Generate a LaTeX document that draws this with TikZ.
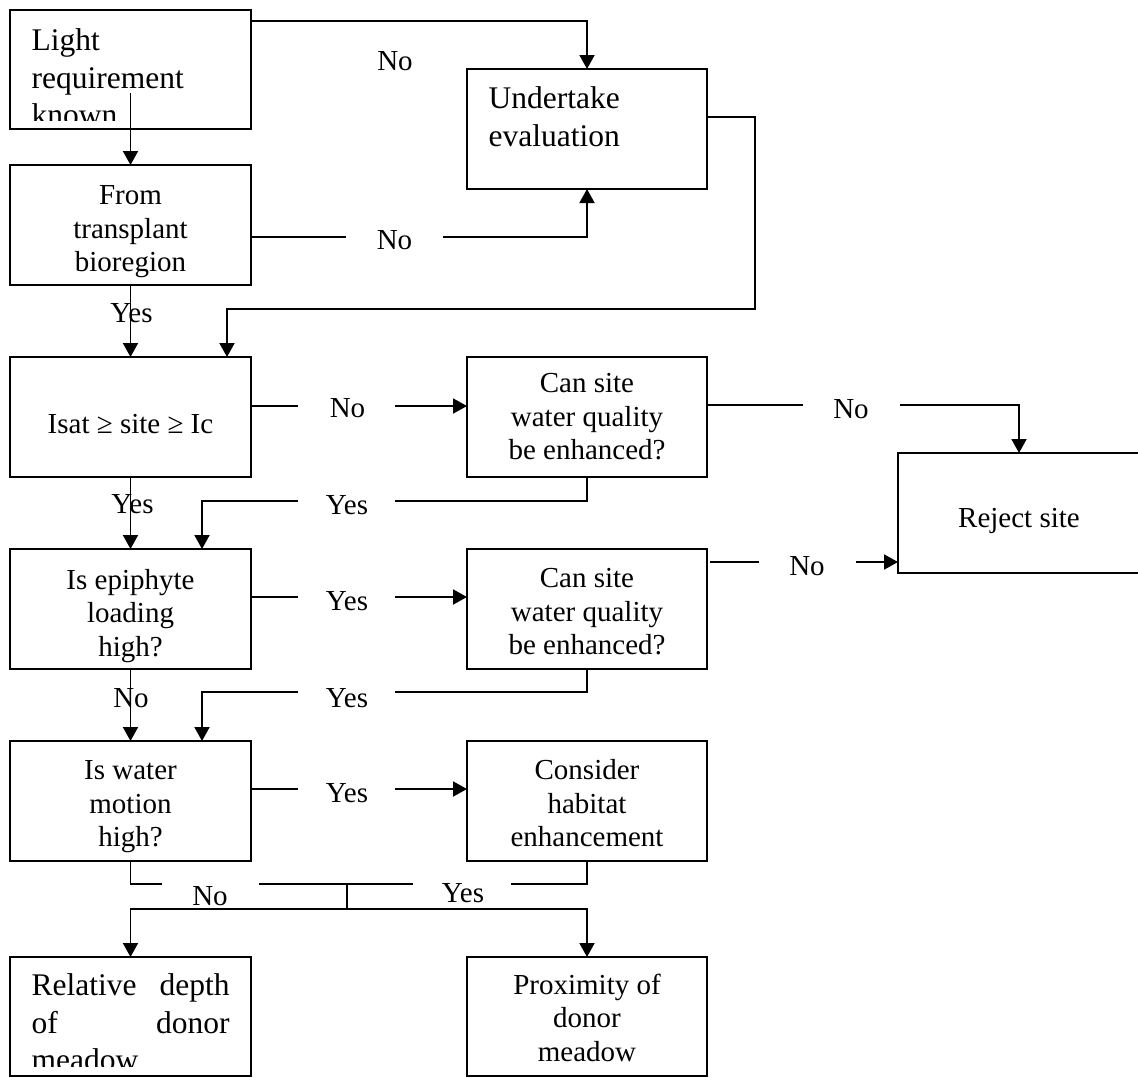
\documentclass[tikz,border=0pt]{standalone}
\usepackage{fontspec}
\setmainfont{Liberation Serif}
\usetikzlibrary{arrows.meta}
\begin{document}
\begin{tikzpicture}[x=1pt,y=-1pt,
  box/.style={draw, line width=1.9pt, inner sep=0pt, outer sep=0pt, minimum width=241pt, minimum height=120pt},
  ctext/.style={font=\fontsize{29}{33.5}\selectfont, align=center, inner sep=0pt, anchor=north},
  ltext/.style={font=\fontsize{31.5}{37.5}\selectfont, align=left, inner sep=0pt, anchor=north west},
  lab/.style={font=\fontsize{29}{33.5}\selectfont, inner sep=0pt, anchor=base},
  conn/.style={line width=1.9pt, -{Triangle[length=14pt,width=15pt]}},
  seg/.style={line width=1.9pt}
]
\useasboundingbox (0,0) rectangle (1138,1077);
\fill[white] (0,0) rectangle (1138,1077);
\clip (0,0) rectangle (1138,1077);

% ---- boxes ----
\node[box, minimum height=119pt] (b1) at (130.5,69.5) {};
\node[box] (b2) at (130.5,225) {};
\node[box] (b3) at (130.5,417) {};
\node[box] (b4) at (130.5,609) {};
\node[box] (b5) at (130.5,801) {};
\node[box, minimum height=119pt] (b6) at (130.5,1016.5) {};
\node[box, minimum width=240pt] (b7) at (587,129) {};
\node[box, minimum width=240pt] (b8) at (587,417) {};
\node[box, minimum width=240pt] (b9) at (587,609) {};
\node[box, minimum width=240pt] (b10) at (587,801) {};
\node[box, minimum width=260pt] (b11) at (1028,513) {};
\node[box, minimum width=240pt, minimum height=119pt] (b12) at (587,1016.5) {};

% ---- box texts ----
\begin{scope}
  \clip (b1.north west) rectangle ([yshift=9pt]b1.south east);
  \node[ltext] (t1) at (31.5,28.5) {Light\\requirement\\known};
\end{scope}
\node[ctext] (t2) at ([yshift=-20.5pt]b2.north) {From\\transplant\\bioregion};
\node[lab] (t3) at (130.5,433) {Isat ≥ site ≥ Ic};
\node[ctext] (t4) at ([yshift=-20pt]b4.north) {Is epiphyte\\loading\\high?};
\node[ctext] (t5) at ([yshift=-19.5pt]b5.north) {Is water\\motion\\high?};
\begin{scope}
  \clip (b6.north west) rectangle ([yshift=10pt]b6.south east);
  \node[ltext] (t6) at (31.5,973.5) {\hbox to 198pt{Relative\hfill depth}\\\hbox to 198pt{of\hfill donor}\\meadow};
\end{scope}
\node[ltext] (t7) at (488.5,86.5) {Undertake\\evaluation};
\node[ctext] (t8) at ([yshift=-16.5pt]b8.north) {Can site\\water quality\\be enhanced?};
\node[ctext] (t9) at ([yshift=-19.5pt]b9.north) {Can site\\water quality\\be enhanced?};
\node[ctext] (t10) at ([yshift=-18.5pt]b10.north) {Consider\\habitat\\enhancement};
\node[lab] (t11) at (1019,527) {Reject site};
\node[ctext] (t12) at ([yshift=-16.5pt]b12.north) {Proximity of\\donor\\meadow};

% ---- coordinates ----
\coordinate (k1) at (587,21);
\coordinate (s2) at (130.5,93);
\coordinate (g3a) at (346,237);
\coordinate (g3b) at (443,237);
\coordinate (r4a) at (755,117);
\coordinate (r4b) at (755,309);
\coordinate (r4c) at (227,309);
\coordinate (g6a) at (298,406);
\coordinate (g6b) at (395,406);
\coordinate (g7a) at (803,405);
\coordinate (g7b) at (900,405);
\coordinate (k7) at (1019,405);
\coordinate (g9a) at (395,501);
\coordinate (g9b) at (298,501);
\coordinate (k9) at (202,501);
\coordinate (g10a) at (298,597);
\coordinate (g10b) at (395,597);
\coordinate (g11s) at (710,562);
\coordinate (g11a) at (759,562);
\coordinate (g11b) at (856,562);
\coordinate (g13a) at (395,692);
\coordinate (g13b) at (298,692);
\coordinate (k13) at (202,692);
\coordinate (g14a) at (298,789);
\coordinate (g14b) at (395,789);
\coordinate (g15a) at (162,884);
\coordinate (g15b) at (259,884);
\coordinate (g15c) at (413,884);
\coordinate (g15d) at (511,884);
\coordinate (j1) at (347,884);
\coordinate (j2) at (347,909);

% ---- connectors ----
\draw[conn] (b1.east |- k1) -- (k1) -- (b7.north);
\draw[conn] (s2) -- (b2.north);
\draw[seg] (b2.east |- g3a) -- (g3a);
\draw[conn] (g3b) -| (b7.south);
\draw[conn] (b7.east |- r4a) -- (r4a) -- (r4b) -- (r4c) -- (r4c |- b3.north);
\draw[conn] (b2.south) -- (b3.north);
\draw[seg] (b3.east |- g6a) -- (g6a);
\draw[conn] (g6b) -- (b8.west |- g6b);
\draw[seg] (b8.east |- g7a) -- (g7a);
\draw[conn] (g7b) -- (k7) -- (k7 |- b11.north);
\draw[conn] (b3.south) -- (b4.north);
\draw[seg] (b8.south) |- (g9a);
\draw[conn] (g9b) -- (k9) -- (k9 |- b4.north);
\draw[seg] (b4.east |- g10a) -- (g10a);
\draw[conn] (g10b) -- (b9.west |- g10b);
\draw[seg] (g11s) -- (g11a);
\draw[conn] (g11b) -- (b11.west |- g11b);
\draw[conn] (b4.south) -- (b5.north);
\draw[seg] (b9.south) |- (g13a);
\draw[conn] (g13b) -- (k13) -- (k13 |- b5.north);
\draw[seg] (b5.east |- g14a) -- (g14a);
\draw[conn] (g14b) -- (b10.west |- g14b);
\draw[seg] (b5.south) |- (g15a);
\draw[seg] (g15b) -- (g15c);
\draw[seg] (b10.south) |- (g15d);
\draw[seg] (j1) -- (j2);
\draw[conn] (j2) -| (b6.north);
\draw[conn] (j2) -| (b12.north);

% ---- labels ----
\node[lab] (l1) at (395,70) {No};
\node[lab] (l2) at (394.5,249) {No};
\node[lab] (l3) at (131.5,322) {Yes};
\node[lab] (l4) at (347.5,417) {No};
\node[lab] (l5) at (851,418) {No};
\node[lab] (l6) at (132.5,513) {Yes};
\node[lab] (l7) at (347,514) {Yes};
\node[lab] (l8) at (347,610) {Yes};
\node[lab] (l9) at (807,575) {No};
\node[lab] (l10) at (131,707) {No};
\node[lab] (l11) at (347,707) {Yes};
\node[lab] (l12) at (347,802) {Yes};
\node[lab] (l13) at (210,905) {No};
\node[lab] (l14) at (463,902) {Yes};
\end{tikzpicture}
\end{document}
